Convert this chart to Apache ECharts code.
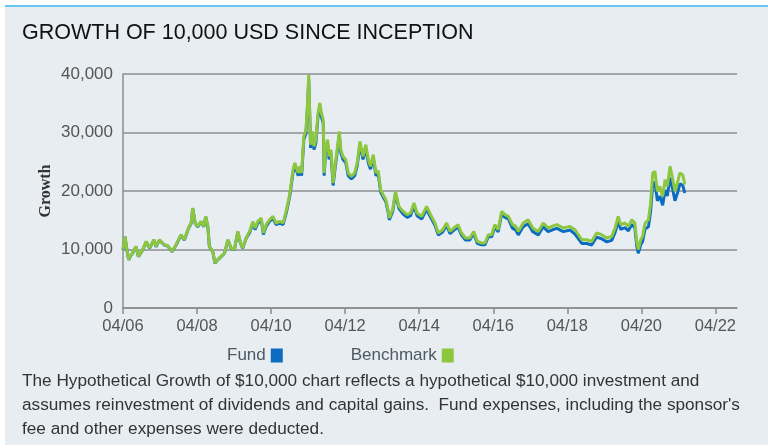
<!DOCTYPE html>
<html><head><meta charset="utf-8">
<script src="https://cdn.jsdelivr.net/npm/echarts@6/dist/echarts.min.js"></script>
<style>
html,body{margin:0;padding:0;background:#fff;}
#panel{position:absolute;left:5px;top:5px;width:763px;height:438px;background:#e8edf1;border-top:2px solid #67c6ef;}
#c{position:absolute;left:0;top:0;width:768px;height:448px;}
</style>
</head><body><div id="panel"></div><div id="c"></div><script>
// Months since inception (April 2006)
const monthsSinceInception = [
0,0.65,1.2,1.85,2.5,3.1,4.2,5.0,6.4,7.5,8.6,10.0,10.7,11.8,13.4,14.5,15.9,17.2,18.8,19.9,
21.2,22.1,22.6,23.4,24.2,25.3,26.2,26.8,27.5,28.0,29.1,29.8,30.7,31.8,32.9,34.0,35.0,36.1,37.2,38.1,
38.8,39.9,41.0,42.1,42.8,43.7,44.8,45.5,46.4,47.5,48.6,49.6,50.8,51.9,53.0,54.1,55.1,55.7,56.8,57.3,
57.9,58.6,59.3,59.8,60.2,60.5,60.8,61.4,61.9,62.5,63.2,63.8,64.3,64.9,65.2,65.7,66.3,66.8,67.4,68.1,
68.7,69.4,70.1,70.6,71.3,72.2,73.0,74.0,75.1,75.9,76.8,77.3,77.8,78.7,79.5,80.2,81.1,82.0,82.7,83.5,
84.3,85.2,85.9,86.3,87.4,88.3,89.4,90.8,92.1,93.2,94.3,95.3,96.8,98.4,99.7,101.1,102.2,103.6,104.9,106.0,
107.2,108.6,109.7,111.0,112.4,113.7,114.8,116.2,117.3,118.4,119.5,120.5,121.6,122.7,123.8,124.9,126.2,127.3,128.1,129.7,
131.3,132.8,134.6,136.2,137.8,139.2,140.6,142.7,144.9,146.5,148.7,150.3,151.9,153.5,155.1,156.8,158.4,159.5,160.5,161.3,
162.7,163.8,164.9,165.9,166.5,167.0,167.8,168.4,169.2,170.3,171.0,171.7,172.4,173.2,174.0,174.9,175.7,176.4,177.3,178.2,
178.9,179.7,180.5,181.4,182.1
];
const benchmark = [
10000,12240,10200,8260,9000,9400,10530,8820,9970,11390,10250,11670,10530,11670,10820,10650,9680,10820,12530,11670,
13670,14530,17090,14530,13950,14800,13950,15660,13950,10530,9680,7690,8260,8820,9400,11670,10250,9970,13090,11110,
10250,11960,13090,14800,13670,14800,15380,12820,14240,15090,15660,14530,14800,14530,16800,19660,23640,24790,23080,24210,
23080,29330,30480,35040,39880,33900,27920,30190,27620,28770,33330,35040,33330,32190,23080,27620,28770,25910,27060,21370,
24210,27060,30190,27060,25910,25350,23080,22500,23080,24790,28480,28200,25910,27920,25350,24210,26210,23080,23500,20220,
19370,18510,16800,15380,16800,19940,17370,16510,15950,16240,17950,16240,15660,17370,15950,14530,12820,13380,14530,13090,
13670,14240,12820,11960,11960,13090,11390,11110,11110,12530,12530,14240,13380,16510,15950,15660,14300,13950,13090,14530,
15090,13670,13090,14530,13670,14000,14240,13670,13950,13380,11670,11670,11390,12820,12530,11960,12240,13670,15660,14240,
14530,13950,15090,14530,11390,10000,11670,12240,14530,15090,17950,23080,23350,19940,20790,19080,21930,20790,24210,21930,
19940,21370,23080,22790,21080
];
const fund = [
9950,12180,10150,8220,8955,9350,10480,8775,9920,11330,10200,11610,10480,11610,10765,10600,9630,10765,12470,11610,
13600,14460,17000,14460,13880,14725,13880,15580,13880,10480,9630,7650,8220,8775,9350,11610,10200,9920,13025,11055,
10200,11900,12830,14500,13400,14500,15070,12560,13955,14790,15345,14240,14500,14240,16465,19265,23165,24295,22620,23725,
22620,28745,29870,34340,39080,33220,27360,29585,27070,28195,32665,34340,32665,31545,22620,27070,28195,25390,26520,20940,
23725,26520,29585,26520,25390,24845,22620,22050,22620,24295,27910,27635,25390,27360,24845,23725,25685,22620,23030,19815,
18985,18140,16465,15070,16465,19540,17020,16050,15505,15785,17445,15785,15220,16885,15505,14125,12460,13005,14125,12725,
13285,13840,12460,11625,11625,12725,11070,10800,10800,12180,12180,13840,13005,16050,15505,15220,13655,13320,12500,13875,
14410,13055,12500,13875,13055,13370,13600,13055,13320,12645,11030,11030,10765,12115,11840,11300,11565,12920,14800,13455,
13730,13185,14260,13730,10590,9350,10855,11385,13510,13880,16515,21235,21480,18345,19125,17555,20175,19125,22275,20175,
18345,19660,21235,20965,19660
];
const xTickLabels = ['04/06','04/08','04/10','04/12','04/14','04/16','04/18','04/20','04/22'];
const yTicks = [0, 10000, 20000, 30000, 40000];
const seriesNames = ['Fund', 'Benchmark'];
const footnoteLines = [
  "The Hypothetical Growth of $10,000 chart reflects a hypothetical $10,000 investment and",
  "assumes reinvestment of dividends and capital gains.  Fund expenses, including the sponsor's",
  "fee and other expenses were deducted."
];

const FONT = '"Liberation Sans", Arial, sans-serif';
const toPairs = (vals) => vals.map((v, i) => [monthsSinceInception[i], v]);
const chart = echarts.init(document.getElementById('c'), null, {renderer: 'canvas'});
chart.setOption({
  backgroundColor: 'transparent',
  animation: false,
  title: {
    text: 'GROWTH OF 10,000 USD SINCE INCEPTION',
    left: 17, top: 17,
    textStyle: {fontFamily: FONT, fontSize: 21.5, fontWeight: 'normal', color: '#111'}
  },
  legend: {
    data: seriesNames,
    left: 222, top: 342,
    align: 'right',
    icon: 'rect',
    itemWidth: 12, itemHeight: 14,
    itemGap: 68,
    textStyle: {fontFamily: FONT, fontSize: 17, color: '#4d5963'}
  },
  grid: {left: 123, right: 31, top: 74, bottom: 140, containLabel: false},
  xAxis: {
    type: 'value', min: 0, max: 199, interval: 24,
    axisLine: {show: true, lineStyle: {color: '#8c8c8c', width: 1.5}},
    axisTick: {show: true, length: 6, lineStyle: {color: '#8c8c8c', width: 1.5}},
    splitLine: {show: false},
    axisLabel: {
      fontFamily: FONT, fontSize: 16.5, color: '#555', margin: 10,
      formatter: (v) => xTickLabels[Math.round(v / 24)] || ''
    }
  },
  yAxis: {
    type: 'value', min: yTicks[0], max: yTicks[yTicks.length - 1], interval: 10000,
    name: 'Growth', nameLocation: 'middle', nameRotate: 90, nameGap: 69, nameMoveOverlap: false,
    nameTextStyle: {fontFamily: '"Liberation Serif", "DejaVu Serif", serif', fontWeight: 'bold', fontSize: 16, color: '#333'},
    axisLine: {show: true, lineStyle: {color: '#8c8c8c', width: 1.5}},
    axisTick: {show: false},
    splitLine: {show: true, lineStyle: {color: '#8c8c8c', width: 1.5}},
    axisLabel: {
      fontFamily: FONT, fontSize: 17, color: '#555', margin: 10,
      formatter: (v) => v.toLocaleString('en-US')
    }
  },
  series: [
    {name: seriesNames[0], type: 'line', data: toPairs(fund), showSymbol: false, symbol: 'none',
     lineStyle: {color: '#0c6cbf', width: 3}, itemStyle: {color: '#0c6cbf'}, z: 2},
    {name: seriesNames[1], type: 'line', data: toPairs(benchmark), showSymbol: false, symbol: 'none',
     lineStyle: {color: '#8dc63f', width: 3}, itemStyle: {color: '#8dc63f'}, z: 3}
  ],
  graphic: [{
    type: 'text', left: 22, top: 369,
    style: {text: footnoteLines.join('\n'), font: '17.2px ' + FONT, fill: '#333', lineHeight: 24}
  }]
});
</script></body></html>
